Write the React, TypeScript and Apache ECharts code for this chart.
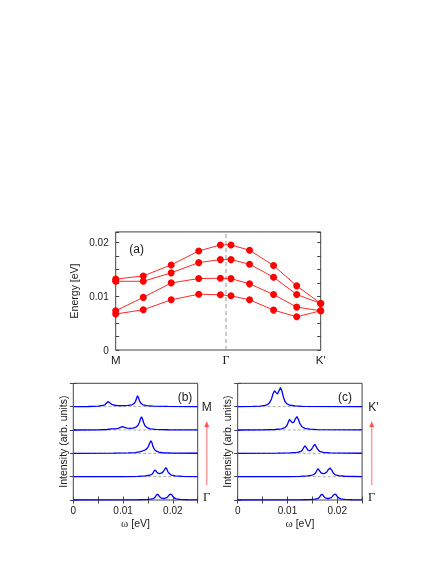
import React, { useEffect, useRef } from "react";
import * as echarts from "echarts";

// ---------- Data ----------
// Panel (a): dispersion along M - Γ - K'
const kPos = [0, 0.1345, 0.2707, 0.405, 0.5105, 0.5624, 0.653, 0.77, 0.883, 1];
const kTickPos = [0, 0.538, 1];
const kTickLabels = ["M", "Γ", "K'"];
const branch1 = [0.0132, 0.0138, 0.01585, 0.01845, 0.01957, 0.01957, 0.01858, 0.01573, 0.01195, 0.00867];
const branch2 = [0.0128, 0.0128, 0.01437, 0.01628, 0.01684, 0.01684, 0.01598, 0.01356, 0.01034, 0.00867];
const branch3 = [0.0073, 0.0098, 0.0125, 0.01331, 0.01337, 0.0133, 0.01232, 0.01034, 0.00799, 0.0073];
const branch4 = [0.0067, 0.0075, 0.00935, 0.0104, 0.01028, 0.0101, 0.00935, 0.00743, 0.00619, 0.0073];
const energyLabels = [0, 0.01, 0.02];

// Panels (b),(c): spectra [ω, intensity above its baseline]
const specGamma = [[0, 0], [0.01, 0.004], [0.013, 0.01], [0.0145, 0.02], [0.0155, 0.04], [0.016, 0.06], [0.0163, 0.09], [0.0165, 0.14], [0.0167, 0.21], [0.0169, 0.25], [0.0171, 0.22], [0.0173, 0.15], [0.0176, 0.09], [0.018, 0.065], [0.0183, 0.065], [0.0187, 0.09], [0.019, 0.14], [0.0192, 0.2], [0.0194, 0.24], [0.0196, 0.25], [0.0198, 0.22], [0.02, 0.15], [0.0203, 0.09], [0.0207, 0.05], [0.0215, 0.025], [0.023, 0.01], [0.025, 0.005]];
const specB1 = [[0, 0], [0.01, 0.005], [0.013, 0.015], [0.0145, 0.03], [0.0153, 0.06], [0.0158, 0.1], [0.016, 0.15], [0.0162, 0.23], [0.0164, 0.28], [0.0166, 0.25], [0.0168, 0.19], [0.0171, 0.14], [0.0174, 0.13], [0.0178, 0.16], [0.0181, 0.22], [0.0184, 0.33], [0.0186, 0.38], [0.0188, 0.33], [0.019, 0.22], [0.0193, 0.13], [0.0197, 0.07], [0.0205, 0.035], [0.022, 0.015], [0.025, 0.005]];
const specB2 = [[0, 0], [0.008, 0.005], [0.011, 0.015], [0.0125, 0.03], [0.0135, 0.07], [0.014, 0.11], [0.0144, 0.14], [0.0148, 0.2], [0.0151, 0.3], [0.0154, 0.46], [0.0156, 0.54], [0.0158, 0.46], [0.016, 0.3], [0.0163, 0.16], [0.0167, 0.09], [0.0172, 0.05], [0.018, 0.025], [0.02, 0.01], [0.025, 0.004]];
const specB3 = [[0, 0], [0.005, 0.005], [0.0068, 0.02], [0.0077, 0.05], [0.0084, 0.05], [0.009, 0.07], [0.0095, 0.11], [0.0099, 0.14], [0.0103, 0.11], [0.0108, 0.08], [0.0115, 0.07], [0.012, 0.08], [0.0126, 0.12], [0.013, 0.2], [0.0133, 0.33], [0.0135, 0.48], [0.0137, 0.57], [0.0139, 0.48], [0.0141, 0.33], [0.0144, 0.18], [0.0148, 0.1], [0.0155, 0.05], [0.0165, 0.025], [0.019, 0.01], [0.025, 0.004]];
const specB4 = [[0, 0], [0.003, 0.005], [0.005, 0.02], [0.006, 0.05], [0.0064, 0.09], [0.0067, 0.16], [0.007, 0.22], [0.0073, 0.17], [0.0077, 0.1], [0.0083, 0.06], [0.009, 0.045], [0.01, 0.04], [0.011, 0.05], [0.0118, 0.08], [0.0122, 0.13], [0.0125, 0.22], [0.0127, 0.35], [0.0129, 0.47], [0.0131, 0.38], [0.0133, 0.25], [0.0136, 0.14], [0.014, 0.08], [0.0147, 0.04], [0.016, 0.02], [0.019, 0.008], [0.025, 0.003]];
const specC1 = [[0, 0], [0.01, 0.005], [0.0125, 0.015], [0.014, 0.035], [0.015, 0.07], [0.0155, 0.12], [0.0158, 0.22], [0.0161, 0.34], [0.0164, 0.27], [0.0167, 0.17], [0.0171, 0.13], [0.0175, 0.14], [0.0179, 0.2], [0.0182, 0.3], [0.01855, 0.37], [0.0189, 0.28], [0.0192, 0.16], [0.0196, 0.08], [0.0203, 0.04], [0.0215, 0.018], [0.025, 0.005]];
const specC2 = [[0, 0], [0.008, 0.005], [0.0105, 0.015], [0.012, 0.04], [0.0127, 0.08], [0.013, 0.14], [0.0133, 0.26], [0.0135, 0.32], [0.0138, 0.24], [0.0141, 0.14], [0.0145, 0.11], [0.0148, 0.16], [0.0151, 0.26], [0.0153, 0.34], [0.0155, 0.38], [0.0158, 0.28], [0.0161, 0.16], [0.0165, 0.08], [0.0172, 0.04], [0.0185, 0.015], [0.025, 0.004]];
const specC3 = [[0, 0], [0.005, 0.005], [0.0075, 0.02], [0.0088, 0.05], [0.0095, 0.1], [0.0099, 0.19], [0.0102, 0.35], [0.0104, 0.45], [0.0107, 0.38], [0.011, 0.31], [0.0113, 0.34], [0.0116, 0.48], [0.0119, 0.57], [0.0122, 0.45], [0.0125, 0.27], [0.0129, 0.14], [0.0135, 0.07], [0.0145, 0.035], [0.016, 0.015], [0.025, 0.004]];
const specC4 = [[0, 0], [0.003, 0.008], [0.0045, 0.02], [0.0055, 0.05], [0.006, 0.09], [0.0064, 0.17], [0.0068, 0.33], [0.0071, 0.55], [0.0074, 0.68], [0.0077, 0.6], [0.008, 0.54], [0.0083, 0.68], [0.0086, 0.82], [0.0089, 0.66], [0.0092, 0.4], [0.0095, 0.22], [0.0099, 0.12], [0.0105, 0.06], [0.0115, 0.03], [0.013, 0.015], [0.025, 0.004]];
const panelBSpectra = [specGamma, specB1, specB2, specB3, specB4];
const panelCSpectra = [specGamma, specC1, specC2, specC3, specC4];
const omegaLabels = [0, 0.01, 0.02];

const SANS = "Liberation Sans";
const SERIF = "Liberation Serif";
const FRAME = "#444";
const TXT = "#1a1a1a";

export default function App() {
  const ref = useRef<HTMLDivElement>(null);
  useEffect(() => {
    if (!ref.current) return;
    const chart = echarts.init(ref.current, undefined, { renderer: "svg" });

    const numFmt = (v: number) => (Math.abs(v) < 1e-12 ? "0" : String(+v.toFixed(4)));
    const grids = [
      { left: 115.7, top: 231.9, width: 205, height: 118.1 },
      { left: 73.3, top: 383.3, width: 124.4, height: 116.7 },
      { left: 237.7, top: 383.3, width: 124.4, height: 116.7 },
    ].map((g) => ({ ...g, show: true, borderColor: FRAME, borderWidth: 1, backgroundColor: "transparent" }));

    const tick = { show: true, inside: true, length: 3.5, lineStyle: { color: FRAME, width: 1 } };
    const omegaAxis = (gi: number) => ({
      type: "value", gridIndex: gi, min: 0, max: 0.025, interval: 0.005,
      axisLine: { show: false }, splitLine: { show: false }, axisTick: tick,
      axisLabel: { customValues: omegaLabels, formatter: numFmt, fontFamily: SANS, fontSize: 10, color: TXT, margin: 5 },
      name: "{w|ω} [eV]", nameLocation: "middle", nameGap: 17,
      nameTextStyle: { fontFamily: SANS, fontSize: 10.5, color: TXT, rich: { w: { fontFamily: SERIF, fontSize: 11, color: TXT } } },
    });
    const omegaTop = (gi: number) => ({
      type: "value", gridIndex: gi, position: "top", min: 0, max: 0.025, interval: 0.005,
      axisLine: { show: false }, splitLine: { show: false }, axisTick: tick, axisLabel: { show: false },
    });
    const intAxis = (gi: number) => ({
      type: "value", gridIndex: gi, min: 0, max: 5, interval: 1,
      axisLine: { show: false }, splitLine: { show: false }, axisTick: tick, axisLabel: { show: false },
      name: "Intensity (arb. units)", nameLocation: "middle", nameGap: 5,
      nameTextStyle: { fontFamily: SANS, fontSize: 10.5, color: TXT },
    });
    const intRight = (gi: number) => ({
      type: "value", gridIndex: gi, position: "right", min: 0, max: 5, interval: 1,
      axisLine: { show: false }, splitLine: { show: false }, axisTick: tick, axisLabel: { show: false },
    });

    const xAxis = [
      {
        type: "value", gridIndex: 0, min: 0, max: 1,
        axisLine: { show: false }, splitLine: { show: false }, axisTick: { show: false },
        axisLabel: {
          customValues: kTickPos,
          formatter: (v: number) => {
            const i = kTickPos.findIndex((p) => Math.abs(p - v) < 1e-6);
            if (i < 0) return "";
            return kTickLabels[i] === "Γ" ? "{g|Γ}" : kTickLabels[i];
          },
          fontFamily: SANS, fontSize: 11.5, color: TXT, margin: 4,
          rich: { g: { fontFamily: SERIF, fontSize: 12, color: TXT } },
        },
      },
      omegaAxis(1), omegaTop(1), omegaAxis(2), omegaTop(2),
    ];
    const yAxis = [
      {
        type: "value", gridIndex: 0, min: 0, max: 0.022, interval: 0.0025,
        axisLine: { show: false }, splitLine: { show: false }, axisTick: tick,
        axisLabel: { customValues: energyLabels, formatter: numFmt, fontFamily: SANS, fontSize: 10, color: TXT, margin: 7 },
        name: "Energy [eV]", nameLocation: "middle", nameGap: 36,
        nameTextStyle: { fontFamily: SANS, fontSize: 10.5, color: TXT },
      },
      {
        type: "value", gridIndex: 0, position: "right", min: 0, max: 0.022, interval: 0.0025,
        axisLine: { show: false }, splitLine: { show: false }, axisTick: tick, axisLabel: { show: false },
      },
      intAxis(1), intRight(1), intAxis(2), intRight(2),
    ];

    const series: any[] = [];
    // Γ dashed marker in panel (a)
    series.push({
      type: "line", xAxisIndex: 0, yAxisIndex: 0, z: 1, silent: true, symbol: "none",
      data: [[kTickPos[1], 0], [kTickPos[1], 0.022]],
      lineStyle: { color: "#999", width: 1, type: [4, 3] },
    });
    [branch1, branch2, branch3, branch4].forEach((b) => {
      series.push({
        type: "line", xAxisIndex: 0, yAxisIndex: 0, z: 3,
        data: kPos.map((k, i) => [k, b[i]]),
        symbol: "circle", symbolSize: 7, showSymbol: true,
        itemStyle: { color: "#ff0000" },
        lineStyle: { color: "#ff2a2a", width: 1 },
      });
    });
    const addSpectra = (list: number[][][], xi: number, yi: number) => {
      list.forEach((pts, idx) => {
        series.push({
          type: "line", xAxisIndex: xi, yAxisIndex: yi, z: 1, silent: true, symbol: "none",
          data: [[0, idx], [0.025, idx]],
          lineStyle: { color: "#aaa", width: 1, type: [3, 2] },
        });
        series.push({
          type: "line", xAxisIndex: xi, yAxisIndex: yi, z: 3, symbol: "none",
          data: pts.map(([w, I]) => [w, I + idx]),
          lineStyle: { color: "#0000ff", width: 1.3 },
        });
      });
    };
    addSpectra(panelBSpectra, 1, 2);
    addSpectra(panelCSpectra, 3, 4);

    const txt = (text: string, x: number, y: number, size = 11.5, family = SANS) => ({
      type: "text", x, y,
      style: { text, fill: TXT, fontSize: size, fontFamily: family, align: "center", verticalAlign: "middle" },
    });
    const arrow = (x: number) => ({
      type: "group",
      children: [
        { type: "line", shape: { x1: x, y1: 485, x2: x, y2: 425 }, style: { stroke: "rgba(255,60,60,0.5)", lineWidth: 1.5 } },
        { type: "polygon", shape: { points: [[x - 2.5, 427], [x, 421], [x + 2.5, 427]] }, style: { fill: "rgba(255,40,40,0.75)" } },
      ],
    });

    chart.setOption({
      animation: false,
      grid: grids,
      xAxis,
      yAxis,
      series,
      graphic: [
        txt("(a)", 136.7, 249, 12),
        txt("(b)", 185, 396.7, 12),
        txt("(c)", 345, 396.7, 12),
        txt("M", 206.7, 406.7, 12),
        txt("Γ", 206.7, 496.7, 12.5, SERIF),
        txt("K'", 373.5, 406.7, 12),
        txt("Γ", 371.7, 496.7, 12.5, SERIF),
        arrow(206.7),
        arrow(371.7),
      ],
    });
    return () => chart.dispose();
  }, []);
  return <div ref={ref} style={{ position: "fixed", left: 0, top: 0, width: 436, height: 564 }} />;
}
